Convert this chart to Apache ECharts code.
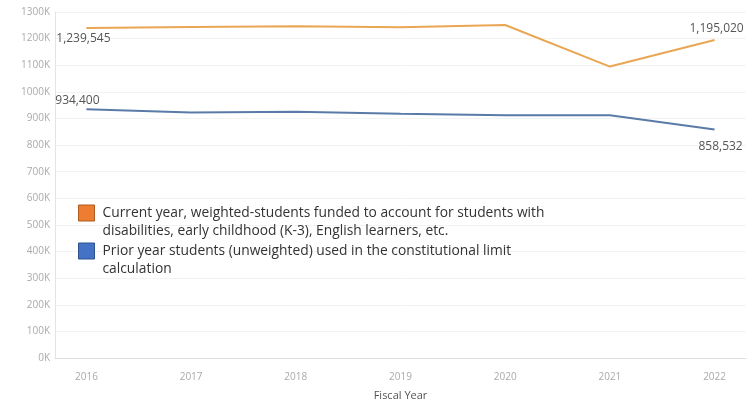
<!DOCTYPE html>
<html><head><meta charset="utf-8">
<script src="https://cdn.jsdelivr.net/npm/echarts@6/dist/echarts.min.js"></script>
<style>html,body{margin:0;padding:0;background:#fff}#c{width:748px;height:401px}</style>
</head><body><div id="c"></div>
<script>
const years = [2016, 2017, 2018, 2019, 2020, 2021, 2022];
const weighted = [1239545, 1244000, 1246000, 1243000, 1251000, 1095000, 1195020];
const unweighted = [934400, 922000, 925000, 918000, 912000, 912000, 858532];
const nameW = 'Current year, weighted-students funded to account for students with\ndisabilities, early childhood (K-3), English learners, etc.';
const nameU = 'Prior year students (unweighted) used in the constitutional limit\ncalculation';

function pts(vals){ return years.map((y,i)=>[y, vals[i]]); }
const fmt = v => v.toLocaleString('en-US');
function lbl(vals, first, last){
  return pts(vals).map((p,i)=>{
    const d = {value:p};
    if(i===0) d.label = Object.assign({show:true}, first);
    else if(i===years.length-1) d.label = Object.assign({show:true}, last);
    return d;
  });
}
const labStyle = {show:false, color:'#555', fontSize:12, fontFamily:'Open Sans', formatter:p=>fmt(p.value[1])};

const chart = echarts.init(document.getElementById('c'));
chart.setOption({
  animation:false,
  grid:{left:55, right:2, top:12, bottom:43, outerBoundsMode:'none', containLabel:false},
  legend:{
    orient:'vertical', left:73, top:181, itemGap:-16,
    icon:'rect', itemWidth:16, itemHeight:16,
    formatter: n => '{t| }\n' + n.split('\n').map(s=>'{t|'+s+'}').join('\n'),
    textStyle:{color:'#333', fontSize:13.8, fontFamily:'Open Sans', lineHeight:18,
      rich:{t:{color:'#333', fontSize:13.8, fontFamily:'Open Sans', lineHeight:18, padding:[0,0,0,3]}}},
    data:[
      {name:nameW, itemStyle:{color:'#ED7D31', borderColor:'#AE5A21', borderWidth:1}},
      {name:nameU, itemStyle:{color:'#4472C4', borderColor:'#2F528F', borderWidth:1}}
    ]
  },
  xAxis:{
    type:'value', min:2015.7, max:2022.3,
    name:'Fiscal Year', nameLocation:'middle', nameGap:32,
    nameTextStyle:{color:'#555', fontSize:11, fontFamily:'Open Sans'},
    axisLine:{show:true, lineStyle:{color:'#ddd'}},
    axisTick:{show:false},
    splitLine:{show:false},
    axisLabel:{customValues:years, color:'#aaa', fontSize:10, fontFamily:'Open Sans', margin:14, formatter:v=>String(v)}
  },
  yAxis:{
    type:'value', min:0, max:1300000, interval:100000,
    axisLine:{show:true, lineStyle:{color:'#e4e4e4'}},
    axisTick:{show:false},
    splitLine:{lineStyle:{color:'#f3f3f3'}},
    axisLabel:{color:'#aaa', fontSize:10, fontFamily:'Open Sans', margin:5, formatter:v=>(v/1000)+'K'}
  },
  series:[
    {name:nameW, type:'line', data:lbl(weighted,
        {position:'bottom', offset:[-3,-1]},
        {position:'top', offset:[2,0]}),
     symbol:'circle', symbolSize:0.1, showSymbol:true,
     lineStyle:{color:'#E9A653', width:2}, itemStyle:{color:'#E9A653'},
     label:labStyle},
    {name:nameU, type:'line', data:lbl(unweighted,
        {position:'top', offset:[-9,2]},
        {position:'bottom', offset:[6,6]}),
     symbol:'circle', symbolSize:0.1, showSymbol:true,
     lineStyle:{color:'#5A7BA8', width:2}, itemStyle:{color:'#5A7BA8'},
     label:labStyle}
  ]
});
</script></body></html>
